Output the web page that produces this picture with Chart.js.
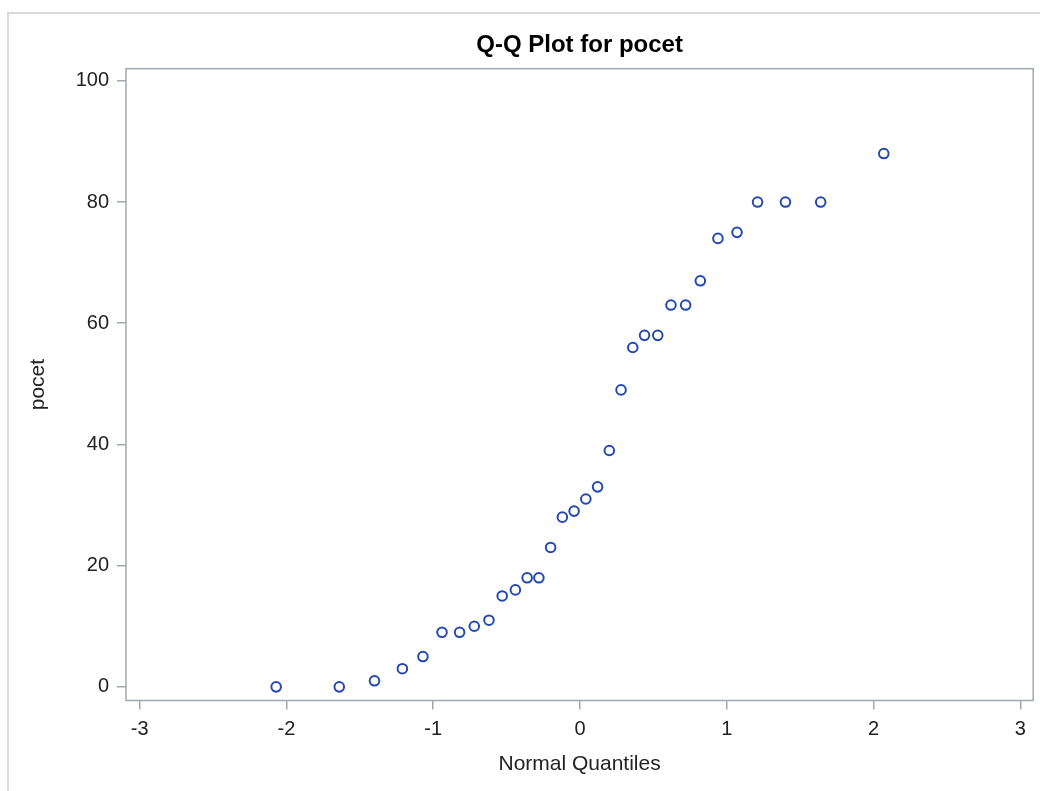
<!DOCTYPE html>
<html>
<head>
<meta charset="utf-8">
<script src="https://cdn.jsdelivr.net/npm/chart.js@4/dist/chart.umd.min.js"></script>
<style>
  html, body { margin: 0; padding: 0; background: #ffffff; width: 1040px; height: 791px; overflow: hidden; }
  #outer { position: absolute; left: 7px; top: 12px; width: 1100px; height: 900px; border: 2px solid #dadada; box-sizing: border-box; }
  #wrap { position: absolute; left: 0; top: 0; width: 1040px; height: 791px; }
</style>
</head>
<body>
<div id="outer"></div>
<div id="wrap"><canvas id="c" width="1040" height="791"></canvas></div>
<script>
// ---- data ----
const normalQuantiles = [-2.07, -1.64, -1.40, -1.21, -1.07, -0.94, -0.82, -0.72, -0.62, -0.53, -0.44, -0.36, -0.28, -0.20, -0.12, -0.04,
                          0.04, 0.12, 0.20, 0.28, 0.36, 0.44, 0.53, 0.62, 0.72, 0.82, 0.94, 1.07, 1.21, 1.40, 1.64, 2.07];
const pocet = [0, 0, 1, 3, 5, 9, 9, 10, 11, 15, 16, 18, 18, 23, 28, 29,
               31, 33, 39, 49, 56, 58, 58, 63, 63, 67, 74, 75, 80, 80, 80, 88];
const xTickValues = [-3, -2, -1, 0, 1, 2, 3];
const yTickValues = [0, 20, 40, 60, 80, 100];
const chartTitle = 'Q-Q Plot for pocet';
const xTitle = 'Normal Quantiles';
const yTitle = 'pocet';

const FONT = '"Liberation Sans", Arial, sans-serif';
const frameColor = '#a3a8ae';
const markerColor = '#2348b2';
const textColor = '#222222';

const points = normalQuantiles.map((q, i) => ({ x: q, y: pocet[i] }));

const framePlugin = {
  id: 'frame',
  beforeDatasetsDraw(chart) {
    const a = chart.chartArea;
    const ctx = chart.ctx;
    ctx.save();
    ctx.strokeStyle = frameColor;
    ctx.lineWidth = 1.5;
    ctx.strokeRect(a.left, a.top, a.right - a.left, a.bottom - a.top);
    ctx.restore();
  }
};

new Chart(document.getElementById('c'), {
  type: 'scatter',
  data: {
    datasets: [{
      data: points,
      pointStyle: 'circle',
      pointRadius: 4.8,
      pointHoverRadius: 4.8,
      pointBorderWidth: 2,
      borderColor: markerColor,
      pointBorderColor: markerColor,
      backgroundColor: 'rgba(0,0,0,0)',
      pointBackgroundColor: 'rgba(0,0,0,0)',
      showLine: false
    }]
  },
  options: {
    responsive: false,
    devicePixelRatio: 1,
    animation: false,
    events: [],
    layout: { padding: { left: 0, right: 5.3, top: 0, bottom: 0 } },
    plugins: {
      legend: { display: false },
      tooltip: { enabled: false },
      title: {
        display: true,
        text: chartTitle,
        fullSize: false,
        color: '#000000',
        font: { family: FONT, size: 24, weight: 'bold' },
        padding: { top: 30.6, bottom: 9.3 }
      }
    },
    scales: {
      x: {
        type: 'linear',
        position: 'bottom',
        min: -3.093,
        max: 3.088,
        afterBuildTicks: s => { s.ticks = xTickValues.map(v => ({ value: v })); },
        afterFit: s => { s.height = 90.5; },
        grid: { drawOnChartArea: false, drawTicks: true, tickLength: 9, color: frameColor, lineWidth: 1.5 },
        border: { display: false },
        ticks: { font: { family: FONT, size: 20 }, color: textColor, padding: 8, maxRotation: 0, autoSkip: false },
        title: { display: true, text: xTitle, color: textColor, font: { family: FONT, size: 21 }, padding: { top: 0, bottom: 14.4 } }
      },
      y: {
        type: 'linear',
        position: 'left',
        min: -2.25,
        max: 102,
        afterBuildTicks: s => { s.ticks = yTickValues.map(v => ({ value: v })); },
        afterFit: s => { s.width = 126; },
        grid: { drawOnChartArea: false, drawTicks: true, tickLength: 9, color: frameColor, lineWidth: 1.5 },
        border: { display: false },
        ticks: { font: { family: FONT, size: 20 }, color: textColor, padding: 8, autoSkip: false },
        title: { display: true, text: yTitle, color: textColor, font: { family: FONT, size: 21 }, padding: { top: 26, bottom: 0 } }
      }
    }
  },
  plugins: [framePlugin]
});
</script>
</body>
</html>
